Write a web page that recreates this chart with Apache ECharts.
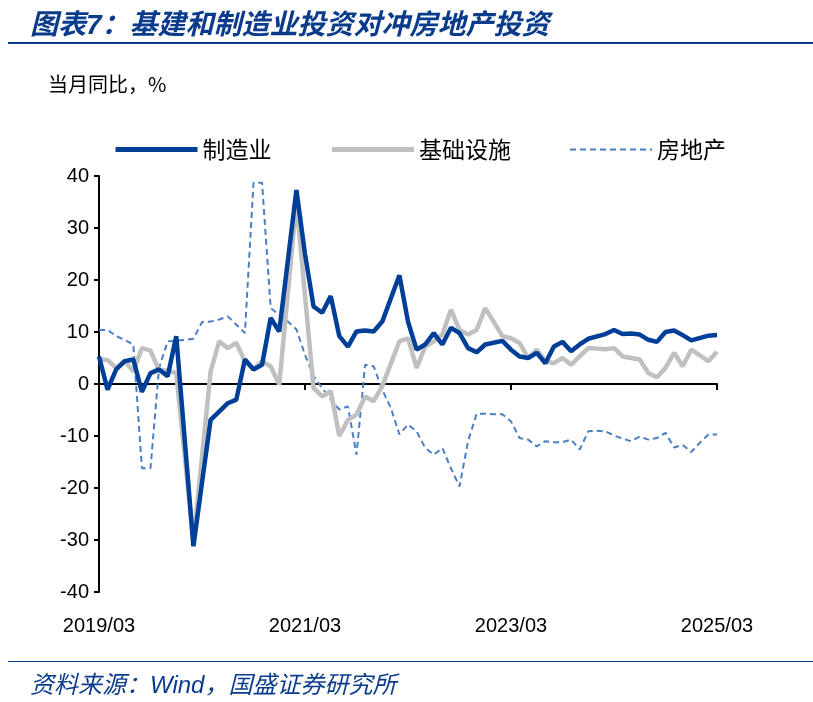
<!DOCTYPE html>
<html lang="en">
<head>
<meta charset="UTF-8">
<title>图表7</title>
<style>
body{margin:0;background:#fff;font-family:"Liberation Sans","Noto Sans CJK SC",sans-serif;}
#title{position:absolute;left:30px;top:2px;font-size:28px;font-weight:bold;font-style:italic;color:#0b3c8c;font-family:"Liberation Sans","Noto Sans CJK SC";}
#tline{position:absolute;left:8px;top:42px;width:805px;height:2px;background:#0b3c8c;}
#bline{position:absolute;left:8px;top:661px;width:805px;height:1px;background:#0b3c8c;}
#src{position:absolute;left:30px;top:665px;font-size:24px;font-style:italic;color:#0b3c8c;font-family:"Liberation Sans","Noto Sans CJK SC";}
#main{position:absolute;left:0;top:0;width:813px;height:702px;}
</style>
</head>
<body>
<div id="main"></div>
<div id="title">图表7：基建和制造业投资对冲房地产投资</div>
<div id="tline"></div>
<div id="bline"></div>
<div id="src">资料来源：Wind，国盛证券研究所</div>
<script src="https://cdn.jsdelivr.net/npm/echarts@6/dist/echarts.min.js"></script>
<script>
// 月份 2019/03 - 2025/03
var months = [];
for (var y = 2019; y <= 2025; y++) {
  for (var m = 1; m <= 12; m++) {
    if ((y === 2019 && m < 3) || (y === 2025 && m > 3)) continue;
    months.push(y + '/' + (m < 10 ? '0' + m : m));
  }
}
// 1月无单月数据（与2月合并）
var manufacturing = [5.3,-1.1,2.8,4.4,4.7,-1.5,2.1,2.8,1.5,9.2,null,-31.2,
  -19,-6.9,-5.3,-3.7,-3,4.7,2.8,3.7,12.7,10.1,null,37.3,
  25,14.9,13.7,16.9,9.2,7.2,10.1,10.3,10.1,12,null,20.9,
  12,6.6,7.6,9.8,7.6,10.8,9.8,6.9,6.1,7.6,null,8.3,
  6.6,5.3,5,6,4,7.2,8.1,6.3,7.6,8.7,null,9.6,
  10.4,9.6,9.7,9.5,8.5,8.1,10,10.3,9.4,8.4,null,9.3,9.4];
var infrastructure = [4.7,4.6,3.1,4.5,2.4,6.9,6.4,2.6,2.6,2.1,null,-30.3,
  -14,2.4,8.2,6.9,7.9,4.4,2.9,4.4,3.4,-0.1,null,35.1,
  17,-0.8,-2.4,-1.4,-10,-6.9,-5.9,-2.4,-3.3,-0.4,null,8.2,
  8.8,3.1,7.2,8.2,9.5,14.3,10.4,9.5,10.4,14.6,null,9.2,
  8.8,7.9,5,6.6,4.4,4,5,3.7,5.3,6.9,null,6.7,
  6.9,5.3,5,4.7,2.1,1.3,3.1,6,3.4,6.6,null,4.4,6.2];
var realEstate = [10.4,10.4,9.2,8.5,7.6,-16.2,-16.2,3.1,8.2,8.3,8.5,8.7,
  11.9,12,12.4,13,11.4,9.8,38.7,38.7,14.6,13.3,12,10.5,
  5.6,1.5,-0.8,-3,-4.9,-4.3,-13.6,3.7,3.4,-1.1,-4.6,-9.7,
  -7.8,-9.1,-12.3,-13.6,-12.3,-16.2,-19.7,-11,-5.7,-5.7,-5.8,-5.8,
  -7.2,-10.4,-10.7,-12,-11,-11.2,-11.2,-10.7,-12.6,-9.1,-9,-9.1,
  -9.9,-10.5,-11,-10.1,-10.7,-10.4,-9.4,-12.2,-11.7,-13.1,-11.3,-9.7,-9.7];
var yTicks = [-40, 40, 10];

var chart = echarts.init(document.getElementById('main'));
var txt = {color: '#000', fontSize: 20, fontFamily: 'Liberation Sans'};
chart.setOption({
  animation: false,
  graphic: [{type: 'text', left: 48, top: 74, style: {text: '当月同比，%', fill: '#000', font: '20px "Noto Sans CJK SC"'}}],
  legend: {
    top: 133, left: 108, itemWidth: 82, itemHeight: 14, itemGap: 58,
    itemStyle: {opacity: 0},
    textStyle: {color: '#000', fontSize: 23, fontFamily: 'Noto Sans CJK SC'},
    data: [{name: '制造业', lineStyle: {width: 5}}, {name: '基础设施', lineStyle: {width: 5}}, {name: '房地产', lineStyle: {width: 2}}]
  },
  grid: {left: 99, right: 96, top: 176, bottom: 110},
  xAxis: [{
    type: 'category', data: months, boundaryGap: false,
    axisLine: {show: false, onZero: false}, axisTick: {show: false},
    axisLabel: Object.assign({interval: 23, margin: 24}, txt)
  }, {
    type: 'category', data: months, boundaryGap: false, position: 'bottom',
    axisLine: {onZero: true, onZeroAxisIndex: 0, lineStyle: {color: '#000', width: 2}},
    axisTick: {show: true, interval: 23, length: 6, lineStyle: {color: '#000', width: 2}},
    axisLabel: {show: false}
  }],
  yAxis: {
    type: 'value', min: yTicks[0], max: yTicks[1], interval: yTicks[2],
    splitLine: {show: false},
    axisLine: {show: true, lineStyle: {color: '#000', width: 2}},
    axisTick: {show: true, length: 5, lineStyle: {color: '#000', width: 2}},
    axisLabel: Object.assign({margin: 10}, txt)
  },
  series: [
    {name: '制造业', type: 'line', data: manufacturing, symbol: 'none', connectNulls: true, z: 3,
      lineStyle: {color: '#003f98', width: 4.5}, itemStyle: {color: '#003f98'}},
    {name: '基础设施', type: 'line', data: infrastructure, symbol: 'none', connectNulls: true, z: 2,
      lineStyle: {color: '#c0c0c0', width: 4.5}, itemStyle: {color: '#c0c0c0'}},
    {name: '房地产', type: 'line', data: realEstate, symbol: 'none', connectNulls: true, z: 1,
      lineStyle: {color: '#4a7fc4', width: 2, type: [6, 4]}, itemStyle: {color: '#4a7fc4'}}
  ]
});
</script>
</body>
</html>
